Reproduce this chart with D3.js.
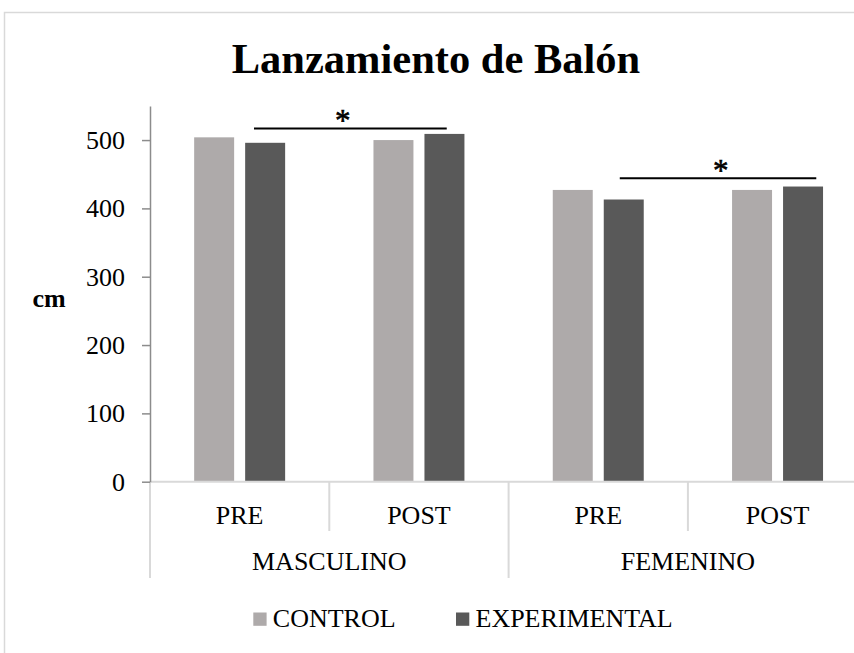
<!DOCTYPE html>
<html>
<head>
<meta charset="utf-8">
<script src="https://cdn.jsdelivr.net/npm/d3@7"></script>
<style>
  html, body { margin: 0; padding: 0; background: #fff; overflow: hidden; }
  svg { display: block; font-family: "Liberation Serif", "Times New Roman", serif; }
</style>
</head>
<body>
<svg id="chart" width="854" height="653"></svg>
<script>
// ---- data ----
const groups = ["MASCULINO", "FEMENINO"];
const moments = ["PRE", "POST"];
const seriesNames = ["CONTROL", "EXPERIMENTAL"];
const controlValues = [504, 500, 427, 427];       // MASC PRE, MASC POST, FEM PRE, FEM POST
const experimentalValues = [496, 509, 413, 432];
const yTicks = [0, 100, 200, 300, 400, 500];
const title = "Lanzamiento de Balón";
const yLabel = "cm";
const sigGroups = ["MASCULINO", "FEMENINO"];
const sigLevels = [517, 444];
const sigMarks = ["*", "*"];

const colors = { CONTROL: "#aeaaaa", EXPERIMENTAL: "#595959" };
const FS = 26;

// ---- build ----
const cats = [];
groups.forEach(g => moments.forEach(m => cats.push(g + "|" + m)));
const rows = cats.map((c, i) => ({
  cat: c, group: c.split("|")[0], moment: c.split("|")[1],
  CONTROL: controlValues[i], EXPERIMENTAL: experimentalValues[i]
}));

const svg = d3.select("#chart");
const left = 150, catW = 179.3;
const x0 = d3.scaleBand().domain(cats).range([left, left + catW * cats.length]).padding(0);
const x1 = d3.scaleBand().domain(seriesNames).range([0, x0.bandwidth()])
  .paddingInner(0.216).paddingOuter(0.866);
const y = d3.scaleLinear().domain([0, 550]).range([481.7, 105.9]);

// outer border
svg.append("rect").attr("x", 4.5).attr("y", 12.5).attr("width", 900).attr("height", 700)
  .attr("fill", "none").attr("stroke", "#d9d9d9").attr("stroke-width", 1.5);

// title
svg.append("text").attr("x", 436).attr("y", 72.7).attr("text-anchor", "middle")
  .attr("font-size", 42.5).attr("font-weight", "bold").attr("fill", "#000").text(title);

// bars
const gBars = svg.append("g");
rows.forEach(r => {
  seriesNames.forEach(s => {
    gBars.append("rect")
      .attr("x", x0(r.cat) + x1(s))
      .attr("y", y(r[s]))
      .attr("width", x1.bandwidth())
      .attr("height", y(0) - y(r[s]))
      .attr("fill", colors[s]);
  });
});

// baseline
svg.append("line").attr("x1", left).attr("x2", x0.range()[1]).attr("y1", y(0)).attr("y2", y(0))
  .attr("stroke", "#d9d9d9").attr("stroke-width", 2);

// category dividers
cats.forEach((c, i) => {
  const isGroupStart = i % moments.length === 0;
  svg.append("line").attr("x1", x0(c)).attr("x2", x0(c))
    .attr("y1", y(0)).attr("y2", isGroupStart ? 578 : 531)
    .attr("stroke", "#d9d9d9").attr("stroke-width", 2);
});

// moment labels
rows.forEach(r => {
  svg.append("text").attr("x", x0(r.cat) + x0.bandwidth() / 2).attr("y", 523.5)
    .attr("text-anchor", "middle").attr("font-size", FS).attr("fill", "#000").text(r.moment);
});
// group labels
groups.forEach(g => {
  const first = x0(g + "|" + moments[0]);
  const last = x0(g + "|" + moments[moments.length - 1]) + x0.bandwidth();
  svg.append("text").attr("x", (first + last) / 2).attr("y", 570)
    .attr("text-anchor", "middle").attr("font-size", FS).attr("fill", "#000").text(g);
});

// y axis
const yAxis = d3.axisLeft(y).tickValues(yTicks).tickSize(8).tickSizeOuter(0).tickPadding(17);
const ga = svg.append("g").attr("transform", `translate(${left},0)`).call(yAxis);
ga.select(".domain").attr("stroke", "#8c8c8c").attr("stroke-width", 1.5);
ga.selectAll(".tick line").attr("stroke", "#8c8c8c").attr("stroke-width", 1.5);
ga.selectAll(".tick text").attr("font-size", FS).attr("fill", "#000")
  .attr("font-family", "Liberation Serif, Times New Roman, serif");

// y label
svg.append("text").attr("x", 49).attr("y", 307).attr("text-anchor", "middle")
  .attr("font-size", FS).attr("font-weight", "bold").attr("fill", "#000").text(yLabel);

// significance annotations
const sigFrom = [0.58, 0.62];   // fraction within PRE category
const sigTo = [0.655, 0.716];   // fraction within POST category
const sigMarkPos = [0.46, 0.514];
sigGroups.forEach((g, i) => {
  const xa = x0(g + "|PRE") + x0.bandwidth() * sigFrom[i];
  const xb = x0(g + "|POST") + x0.bandwidth() * sigTo[i];
  const yy = y(sigLevels[i]);
  svg.append("line").attr("x1", xa).attr("x2", xb).attr("y1", yy).attr("y2", yy)
    .attr("stroke", "#000").attr("stroke-width", 2);
  svg.append("text").attr("x", xa + (xb - xa) * sigMarkPos[i]).attr("y", yy + 3)
    .attr("text-anchor", "middle").attr("font-size", 31).attr("fill", "#000")
    .attr("stroke", "#000").attr("stroke-width", 0.6).text(sigMarks[i]);
});

// legend
const legendX = [253.3, 456];
seriesNames.forEach((s, i) => {
  svg.append("rect").attr("x", legendX[i]).attr("y", 612.5).attr("width", 13.3).attr("height", 13.3)
    .attr("fill", colors[s]);
  svg.append("text").attr("x", legendX[i] + 19.5).attr("y", 626.5)
    .attr("font-size", FS).attr("fill", "#000").text(s);
});
</script>
</body>
</html>
